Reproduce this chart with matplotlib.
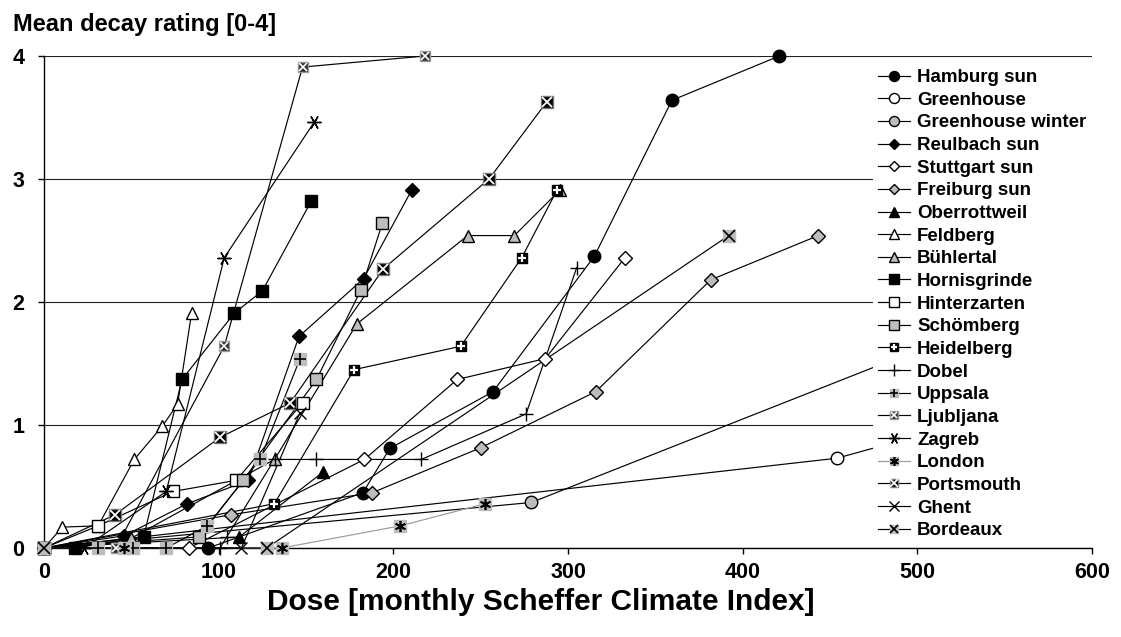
import matplotlib
matplotlib.use("Agg")
import matplotlib.pyplot as plt
from matplotlib.lines import Line2D
from matplotlib.legend_handler import HandlerTuple

plt.rcParams['font.family'] = ['Liberation Sans', 'DejaVu Sans']
plt.rcParams['font.weight'] = 'bold'

# ---------------- data ----------------
hamburg_x = [0, 94, 182.6, 198, 257, 315, 359.5, 421]
hamburg_y = [0, 0, 0.45, 0.81, 1.27, 2.37, 3.64, 4.0]
greenhouse_x = [0, 454, 650]
greenhouse_y = [0, 0.73, 1.5]
gh_winter_x = [0, 279, 650]
gh_winter_y = [0, 0.37, 2.45]
reulbach_x = [0, 46, 82, 117, 146, 183, 210.5]
reulbach_y = [0, 0.10, 0.36, 0.55, 1.72, 2.19, 2.91]
stuttgart_x = [0, 83, 183.4, 236.6, 287, 332.6]
stuttgart_y = [0, 0, 0.72, 1.37, 1.54, 2.36]
freiburg_x = [0, 106.9, 188, 250, 315.8, 381.7, 443.3]
freiburg_y = [0, 0.27, 0.45, 0.815, 1.27, 2.18, 2.54]
oberrottweil_x = [0, 111.8, 160]
oberrottweil_y = [0, 0.09, 0.62]
feldberg_x = [0, 10.5, 31, 51.7, 67.7, 76.5, 84.5]
feldberg_y = [0, 0.17, 0.18, 0.72, 0.99, 1.17, 1.91]
buehlertal_x = [0, 50, 132, 179, 242.6, 269.3, 295.4]
buehlertal_y = [0, 0.08, 0.72, 1.82, 2.54, 2.54, 2.91]
hornisgrinde_x = [0, 18, 57, 79, 109, 125, 153]
hornisgrinde_y = [0, 0, 0.09, 1.37, 1.91, 2.09, 2.82]
hinterzarten_x = [0, 31, 74, 110, 148]
hinterzarten_y = [0, 0.18, 0.46, 0.55, 1.18]
schoemberg_x = [0, 88.7, 114, 156, 181.5, 193.7]
schoemberg_y = [0, 0.09, 0.55, 1.37, 2.10, 2.64]
heidelberg_x = [0, 131.9, 177.5, 238.6, 273.5, 293.7]
heidelberg_y = [0, 0.36, 1.45, 1.64, 2.36, 2.91]
dobel_x = [0, 100.8, 104.6, 132, 156, 216, 276, 305]
dobel_y = [0, 0, 0.09, 0.72, 0.72, 0.72, 1.09, 2.28]
uppsala_x = [0, 31, 51, 70, 93.5, 123.7, 146.6]
uppsala_y = [0, 0, 0, 0, 0.18, 0.72, 1.54]
ljubljana_x = [0, 41, 103.2, 148, 218]
ljubljana_y = [0, 0, 1.64, 3.91, 4.0]
zagreb_x = [0, 23, 70, 103.2, 154.6]
zagreb_y = [0, 0, 0.46, 2.36, 3.46]
london_x = [0, 46, 136, 204, 252.5]
london_y = [0, 0, 0, 0.18, 0.36]
portsmouth_x = [0, 40.6, 100.8, 141, 194.3, 254.8, 288]
portsmouth_y = [0, 0.27, 0.90, 1.18, 2.27, 3.0, 3.63]
ghent_x = [0, 113, 146.6]
ghent_y = [0, 0, 1.10]
bordeaux_x = [0, 127.5, 392]
bordeaux_y = [0, 0, 2.54]

x_ticks = [0, 100, 200, 300, 400, 500, 600]
y_ticks = [0, 1, 2, 3, 4]

GRAY = '#bdbdbd'
AST6 = (6, 2, 90)
AST6V = (6, 2, 0)

# name, x, y, line colour, [(marker, face, edge, size, mew)...], clip
series = [
    ("Hamburg sun", hamburg_x, hamburg_y, 'black', [('o', 'black', 'black', 9, 1)], False),
    ("Greenhouse", greenhouse_x, greenhouse_y, 'black', [('o', 'white', 'black', 9, 1)], True),
    ("Greenhouse winter", gh_winter_x, gh_winter_y, 'black', [('o', GRAY, 'black', 9, 1)], True),
    ("Reulbach sun", reulbach_x, reulbach_y, 'black', [('D', 'black', 'black', 7, 1)], False),
    ("Stuttgart sun", stuttgart_x, stuttgart_y, 'black', [('D', 'white', 'black', 7, 1)], False),
    ("Freiburg sun", freiburg_x, freiburg_y, 'black', [('D', GRAY, 'black', 7, 1)], False),
    ("Oberrottweil", oberrottweil_x, oberrottweil_y, 'black', [('^', 'black', 'black', 9, 1)], False),
    ("Feldberg", feldberg_x, feldberg_y, 'black', [('^', 'white', 'black', 9, 1)], False),
    ("Bühlertal", buehlertal_x, buehlertal_y, 'black', [('^', GRAY, 'black', 9, 1)], False),
    ("Hornisgrinde", hornisgrinde_x, hornisgrinde_y, 'black', [('s', 'black', 'black', 9, 1)], False),
    ("Hinterzarten", hinterzarten_x, hinterzarten_y, 'black', [('s', 'white', 'black', 9, 1)], False),
    ("Schömberg", schoemberg_x, schoemberg_y, 'black', [('s', GRAY, 'black', 9, 1)], False),
    ("Heidelberg", heidelberg_x, heidelberg_y, 'black',
     [('s', 'black', 'black', 7, 1), ('+', 'white', 'white', 6, 1.6)], False),
    ("Dobel", dobel_x, dobel_y, 'black', [('+', 'black', 'black', 10, 1)], False),
    ("Uppsala", uppsala_x, uppsala_y, 'black',
     [('s', GRAY, GRAY, 8, 1), ('+', 'black', 'black', 8, 1.2)], False),
    ("Ljubljana", ljubljana_x, ljubljana_y, 'black',
     [('s', '#333333', '#999999', 7, 1), ('x', 'white', 'white', 5.5, 1.2)], False),
    ("Zagreb", zagreb_x, zagreb_y, 'black', [(AST6, 'black', 'black', 10, 1)], False),
    ("London", london_x, london_y, '#9a9a9a',
     [('s', GRAY, GRAY, 8, 1), (AST6V, 'black', 'black', 8, 1.2)], False),
    ("Portsmouth", portsmouth_x, portsmouth_y, 'black',
     [('s', 'black', '#777777', 8, 1), ('x', 'white', 'white', 6.5, 1.3)], False),
    ("Ghent", ghent_x, ghent_y, 'black', [('x', 'black', 'black', 9, 1)], False),
    ("Bordeaux", bordeaux_x, bordeaux_y, 'black',
     [('s', GRAY, GRAY, 8, 1), ('x', 'black', 'black', 8, 1.2)], False),
]

W, H = 1121, 637
fig = plt.figure(figsize=(W / 100, H / 100), dpi=100)
ax = fig.add_axes([44 / W, 1 - 548 / H, (1092 - 44) / W, (548 - 56) / H])

handles, labels = [], []
for name, xs, ys, lc, marks, clip in series:
    ax.plot(xs, ys, color=lc, lw=0.85, zorder=3, clip_on=clip)
    hparts = [Line2D([], [], color=lc, lw=0.85)]
    for (m, fc, ec, ms, mew) in marks:
        ax.plot(xs, ys, linestyle='none', marker=m, markersize=ms, markerfacecolor=fc,
                markeredgecolor=ec, markeredgewidth=mew, zorder=4, clip_on=clip)
        hparts.append(Line2D([], [], linestyle='none', marker=m, markersize=ms * 0.8,
                             markerfacecolor=fc, markeredgecolor=ec, markeredgewidth=mew))
    handles.append(tuple(hparts))
    labels.append(name)

ax.set_xlim(0, 600)
ax.set_ylim(0, 4)
ax.set_xticks(x_ticks)
ax.set_yticks(y_ticks)
ax.set_xticklabels([str(v) for v in x_ticks])
ax.set_yticklabels([str(v) for v in y_ticks])
ax.tick_params(axis='both', direction='out', length=4.5, width=1, labelsize=15.5, colors='black')
ax.tick_params(axis='x', pad=5.5)
ax.tick_params(axis='y', pad=9.5)
for lab in ax.get_xticklabels() + ax.get_yticklabels():
    lab.set_fontweight('bold')

ax.spines['right'].set_visible(False)
ax.spines['top'].set_visible(False)
ax.spines['left'].set_linewidth(1)
ax.spines['bottom'].set_linewidth(1)
ax.yaxis.grid(True, color='#222222', lw=0.8, zorder=0)
ax.set_axisbelow(True)

leg = ax.legend(handles, labels, handler_map={tuple: HandlerTuple(ndivide=1)},
                loc='upper right', bbox_to_anchor=(1.0, 0.985),
                prop={'weight': 'bold', 'size': 13.5},
                frameon=True, framealpha=1, facecolor='white', edgecolor='white',
                handlelength=1.7, handletextpad=0.37, labelspacing=0.295,
                borderpad=0.3, borderaxespad=0.0)
leg.set_zorder(10)
leg.get_frame().set_linewidth(0)

fig.text(13 / W, 1 - 30.7 / H, "Mean decay rating [0-4]", fontsize=17, fontweight='bold',
         ha='left', va='baseline')
fig.text(541 / W, 1 - 602 / H, "Dose [monthly Scheffer Climate Index]", fontsize=21.5,
         fontweight='bold', ha='center', va='center')

fig.savefig("out.png", dpi=100)
